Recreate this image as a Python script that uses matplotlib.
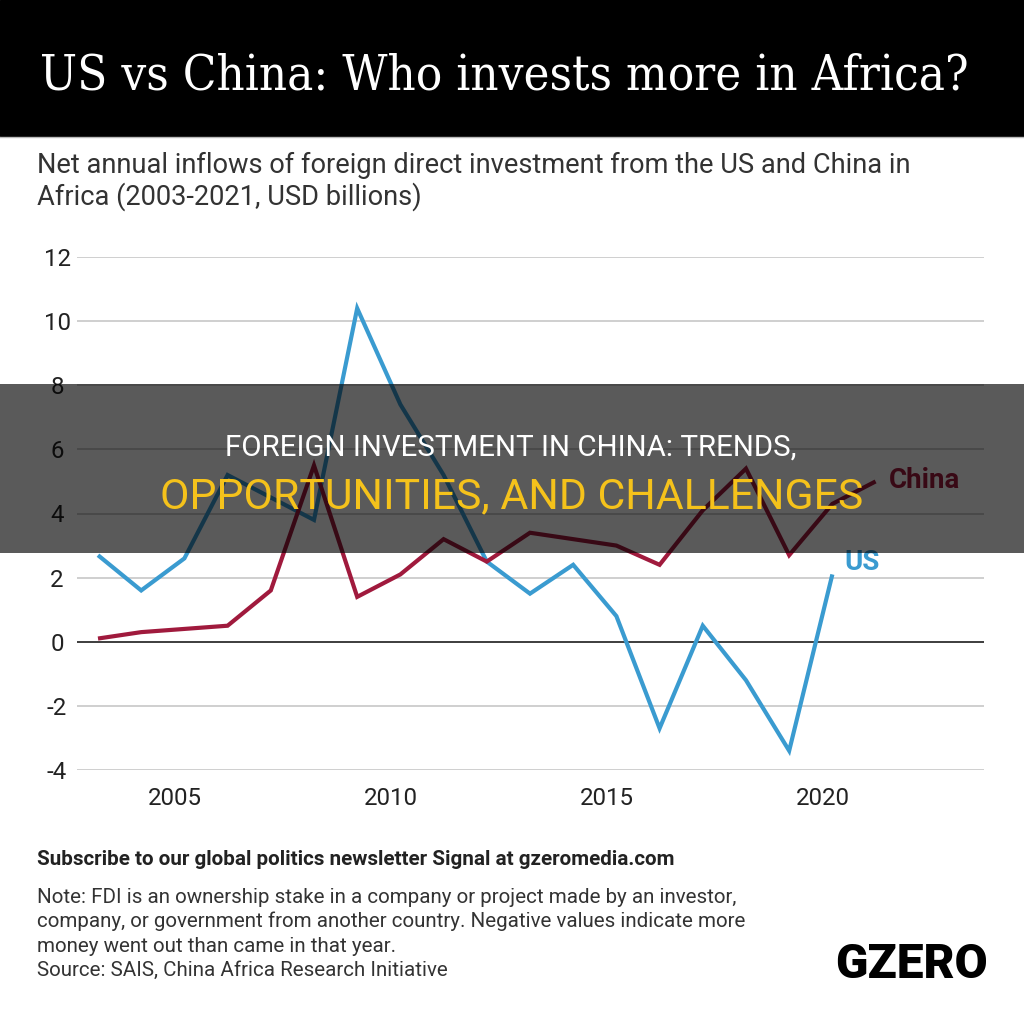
import matplotlib
matplotlib.use('Agg')
import matplotlib.pyplot as plt
from matplotlib.patches import Rectangle
from matplotlib.lines import Line2D

# ---------------- data ----------------
years_us = [2003, 2004, 2005, 2006, 2007, 2008, 2009, 2010, 2011, 2012,
            2013, 2014, 2015, 2016, 2017, 2018, 2019, 2020]
us_fdi = [2.7, 1.6, 2.6, 5.2, 4.5, 3.8, 10.4, 7.4, 5.2, 2.5,
          1.5, 2.4, 0.8, -2.7, 0.5, -1.2, -3.4, 2.1]
years_china = [2003, 2004, 2005, 2006, 2007, 2008, 2009, 2010, 2011, 2012,
               2013, 2014, 2015, 2016, 2017, 2018, 2019, 2020, 2021]
china_fdi = [0.1, 0.3, 0.4, 0.5, 1.6, 5.5, 1.4, 2.1, 3.2, 2.5,
             3.4, 3.2, 3.0, 2.4, 4.1, 5.4, 2.7, 4.3, 5.0]
x_tick_years = [2005, 2010, 2015, 2020]
y_ticks = [-4, -2, 0, 2, 4, 6, 8, 10, 12]

title = "US vs China: Who invests more in Africa?"
subtitle = ["Net annual inflows of foreign direct investment from the US and China in",
            "Africa (2003-2021, USD billions)"]
overlay1 = "FOREIGN INVESTMENT IN CHINA: TRENDS,"
overlay2 = "OPPORTUNITIES, AND CHALLENGES"
footer_bold = "Subscribe to our global politics newsletter Signal at gzeromedia.com"
footer_notes = ["Note: FDI is an ownership stake in a company or project made by an investor,",
                "company, or government from another country. Negative values indicate more",
                "money went out than came in that year.",
                "Source: SAIS, China Africa Research Initiative"]

US_C = '#3a9bd0'
CN_C = '#a01a3d'

W, H = 1024, 1017
fig = plt.figure(figsize=(W / 100, H / 100), dpi=100)
fig.patch.set_facecolor('white')


def fx(px):
    return px / W


def fy(py):
    return 1 - py / H


renderer = fig.canvas.get_renderer()


def fit(t, target):
    w = t.get_window_extent(renderer).width
    t.set_fontsize(t.get_fontsize() * target / w)
    return t.get_fontsize()


# ---------------- title bar ----------------
fig.add_artist(Rectangle((0, fy(136)), 1, 136 / H, transform=fig.transFigure,
                         color='black', zorder=1))
fig.add_artist(Line2D([0, 1], [fy(137), fy(137)], transform=fig.transFigure,
                      color='#bbbbbb', lw=1, zorder=1))
t = fig.text(fx(40), fy(90), title, color='white', family='DejaVu Serif',
             fontstretch='condensed', fontsize=30, ha='left', va='baseline', zorder=2)
fit(t, 926)

# subtitle
s1 = fig.text(fx(37), fy(173), subtitle[0], color='#333333', family='Roboto',
              fontsize=16.2, ha='left', va='baseline')
fs = fit(s1, 873)
fig.text(fx(37), fy(205), subtitle[1], color='#333333', family='Roboto',
         fontsize=fs, ha='left', va='baseline')

# ---------------- axes ----------------
ax = fig.add_axes([fx(77), fy(770), fx(984) - fx(77), fy(257) - fy(770)])
ax.set_facecolor('white')
ax.set_xlim(2002.514, 2023.51)
ax.set_ylim(-4, 12)
for s in ax.spines.values():
    s.set_visible(False)
ax.set_yticks(y_ticks)
ax.set_yticklabels([str(v) for v in y_ticks])
ax.set_xticks([y - 0.22 for y in x_tick_years])
ax.set_xticklabels([str(y) for y in x_tick_years])
ax.grid(axis='y', color='#cccccc', lw=1.3)
ax.grid(axis='x', visible=False)
ax.set_axisbelow(True)
ax.axhline(0, color='#333333', lw=1.3, zorder=1.5)
ax.tick_params(axis='both', length=0, labelsize=17.3, labelcolor='#222222')
ax.tick_params(axis='x', pad=12)
ax.tick_params(axis='y', pad=14.4)
for lab in ax.get_yticklabels() + ax.get_xticklabels():
    lab.set_family('Roboto')
for lab in ax.get_yticklabels():
    lab.set_horizontalalignment('center')

ax.plot(years_us, us_fdi, color=US_C, lw=3.0, solid_joinstyle='miter',
        solid_capstyle='butt', zorder=3, clip_on=False)
ax.plot(years_china, china_fdi, color=CN_C, lw=3.0, solid_joinstyle='miter',
        solid_capstyle='butt', zorder=3, clip_on=False)

ax.annotate('US', xy=(years_us[-1], us_fdi[-1]), xytext=(12 * 0.72, 12 * 0.72),
            textcoords='offset points', ha='left', va='center', color=US_C,
            fontweight='bold', family='Roboto', fontsize=20)
ax.annotate('China', xy=(years_china[-1], china_fdi[-1]), xytext=(13 * 0.72, 1 * 0.72),
            textcoords='offset points', ha='left', va='center', color=CN_C,
            fontweight='bold', family='Roboto', fontsize=20)

# ---------------- overlay band ----------------
fig.add_artist(Rectangle((0, fy(553)), 1, (553 - 384) / H, transform=fig.transFigure,
                         color='black', alpha=0.647, lw=0, zorder=5))
o1 = fig.text(fx(511), fy(456), overlay1, color='white', family='Roboto',
              fontsize=19.5, ha='center', va='baseline', zorder=6)
fit(o1, 572)
o2 = fig.text(fx(511.5), fy(508.5), overlay2, color='#f5c21b', family='Roboto',
              fontsize=27, ha='center', va='baseline', zorder=6)
fit(o2, 703)

# ---------------- footer ----------------
fb = fig.text(fx(37), fy(865), footer_bold, color='#222222', family='Roboto',
              fontweight='bold', fontsize=12.2, ha='left', va='baseline')
fit(fb, 633)
n1 = fig.text(fx(37), fy(903), footer_notes[0], color='#333333', family='Roboto',
              fontsize=13, ha='left', va='baseline')
nfs = fit(n1, 700)
for i, line in enumerate(footer_notes[1:], start=1):
    fig.text(fx(37), fy(903 + 24.3 * i), line, color='#333333', family='Roboto',
             fontsize=nfs, ha='left', va='baseline')

lg = fig.text(fx(911), fy(978), 'GZERO', color='black', family='Roboto',
              fontweight='black', fontsize=30, ha='center', va='baseline')
fit(lg, 152)

fig.savefig('out.png', dpi=100, facecolor='white')
